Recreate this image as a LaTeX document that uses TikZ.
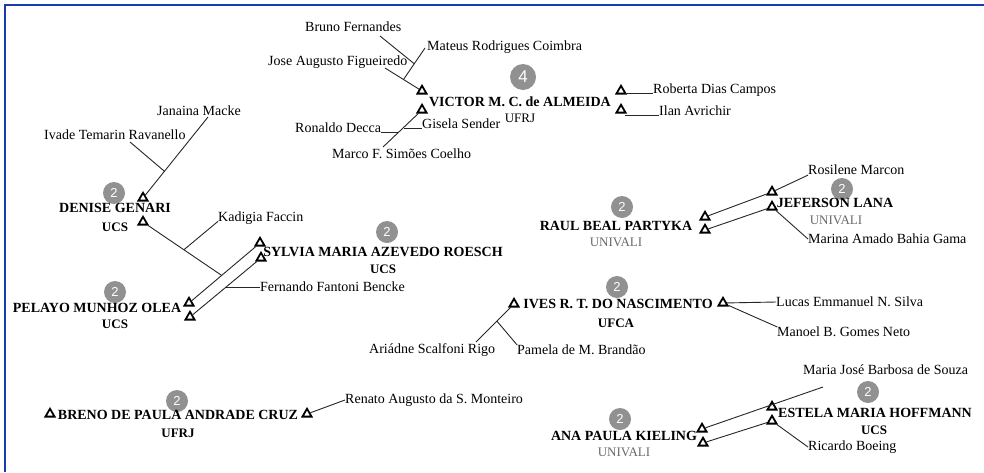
\documentclass[tikz,border=0pt]{standalone}
\usepackage{fontspec}
\setmainfont{Liberation Serif}
\newfontfamily\badgefont{Liberation Sans}
\usetikzlibrary{shapes.geometric,calc}
\definecolor{frameblue}{RGB}{25,60,175}
\definecolor{badgegray}{RGB}{145,145,145}
\definecolor{unigray}{RGB}{105,105,105}
\begin{document}
\begin{tikzpicture}[x=1pt,y=-1pt,
  tri/.style={draw, regular polygon, regular polygon sides=3, minimum size=10.5pt, inner sep=0pt, line width=1.8pt, line join=miter},
  author/.style={font=\fontsize{14}{16}\selectfont\bfseries, inner sep=0pt},
  coauthor/.style={font=\fontsize{14}{16}\selectfont, inner sep=0pt, anchor=west},
  inst/.style={font=\fontsize{13}{15}\selectfont\bfseries, inner sep=0pt},
  instreg/.style={font=\fontsize{13}{15}\selectfont, inner sep=0pt},
  instgray/.style={font=\fontsize{13}{15}\selectfont, text=unigray, inner sep=0pt},
  badge/.style={circle, fill=badgegray, text=white, font=\badgefont\fontsize{13}{13}\selectfont, minimum size=22pt, inner sep=0pt},
  link/.style={line width=0.9pt, draw=black!85}]
\useasboundingbox (0,0) rectangle (984,472);
\fill[white] (0,0) rectangle (984,472);
\draw[frameblue, line width=2.8pt] (5,472) -- (5,5) -- (984,5);

% ---- Victor group
\node[coauthor] (bruno) at (305,27) {Bruno Fernandes};
\node[coauthor] (mateus) at (427,47) {Mateus Rodrigues Coimbra};
\node[coauthor] (jose) at (268,62) {Jose Augusto Figueiredo};
\node[badge, minimum size=26pt, font=\badgefont\fontsize{17}{17}\selectfont] (b4) at (523,77) {4};
\node[tri] (vt1) at (422,91) {};
\node[tri] (vt2) at (422,110) {};
\node[tri] (vt3) at (621,91) {};
\node[tri] (vt4) at (621,110) {};
\node[author] (victor) at (520,102) {VICTOR M. C. de ALMEIDA};
\node[instreg] (ufrj1) at (520,118) {UFRJ};
\node[coauthor] (gisela) at (422,124) {Gisela Sender};
\node[coauthor] (ronaldo) at (295,128) {Ronaldo Decca};
\node[coauthor] (marco) at (332,154) {Marco F. Simões Coelho};
\node[coauthor] (roberta) at (653,90) {Roberta Dias Campos};
\node[coauthor] (ilan) at (659,111) {Ilan Avrichir};
\coordinate (cjose) at (385,68);
\coordinate (cmat) at (425,48);
\coordinate (cbruno) at (380,36);
\coordinate (cmarco) at (383,147);
\draw[link] (cjose) -- (vt1);
\coordinate (jmat) at ($(cjose)!0.5!(vt1)$);
\draw[link] (jmat) -- (cmat);
\coordinate (jbruno) at ($(jmat)!0.5!(cmat)$);
\draw[link] (cbruno) -- (jbruno);
\draw[link] (vt2) -- (cmarco);
\coordinate (jron) at ($(vt2)!0.62!(cmarco)$);
\draw[link] (ronaldo.base east) -- (ronaldo.base east -| jron);
\coordinate (jgis) at ($(vt2)!0.45!(cmarco)$);
\draw[link] (jgis |- gisela.base) -- (gisela.base west);
\draw[link] (vt3.east |- roberta.base) -- (roberta.base west);
\draw[link] (vt4.east |- ilan.base) -- (ilan.base west);

% ---- Denise group
\node[coauthor] (janaina) at (157,111) {Janaina Macke};
\node[coauthor] (ivade) at (44,135) {Ivade Temarin Ravanello};
\node[badge] (bden) at (114,193) {2};
\node[tri] (dt1) at (143,198) {};
\node[author] (denise) at (115,208) {DENISE GENARI};
\node[tri] (dt2) at (143,222) {};
\node[inst] (ucs1) at (115,227) {UCS};
\node[coauthor] (kadigia) at (218,218) {Kadigia Faccin};
\coordinate (cjan) at (208,117);
\coordinate (civa) at (130,142);
\draw[link] (dt1) -- (cjan);
\coordinate (jiva) at ($(dt1)!0.33!(cjan)$);
\draw[link] (civa) -- (jiva);

% ---- Sylvia / Pelayo group
\node[badge] (bsyl) at (387,232) {2};
\node[tri] (st1) at (260,243) {};
\node[tri] (st2) at (261,258) {};
\node[author] (sylvia) at (383,252) {SYLVIA MARIA AZEVEDO ROESCH};
\node[inst] (ucs2) at (383,269) {UCS};
\node[coauthor] (fernando) at (260,287) {Fernando Fantoni Bencke};
\node[badge] (bpel) at (115,292) {2};
\node[author] (pelayo) at (97,308) {PELAYO MUNHOZ OLEA};
\node[tri] (pt1) at (189,303) {};
\node[tri] (pt2) at (190,317) {};
\node[inst] (ucs3) at (115,324) {UCS};
\draw[link] (pt1) -- (st1);
\draw[link] (pt2) -- (st2);
\coordinate (jden) at ($(pt1)!0.46!(st1)$);
\draw[link] (dt2) -- (jden);
\coordinate (jkad) at ($(dt2)!0.52!(jden)$);
\draw[link] (jkad) -- (kadigia.base west);
\coordinate (jfer) at ($(pt2)!0.5!(st2)$);
\draw[link] (jfer) -- (jfer -| fernando.west);

% ---- Raul / Jeferson group
\node[coauthor] (rosilene) at (808,170) {Rosilene Marcon};
\node[badge] (bjef) at (842,189) {2};
\node[tri] (jt1) at (772,192) {};
\node[tri] (jt2) at (772,207) {};
\node[author] (jeferson) at (835,203) {JEFERSON LANA};
\node[instgray] (uni1) at (836,220) {UNIVALI};
\node[badge] (braul) at (622,207) {2};
\node[author] (raul) at (616,226) {RAUL BEAL PARTYKA};
\node[instgray] (uni2) at (616,242) {UNIVALI};
\node[tri] (rt1) at (705,217) {};
\node[tri] (rt2) at (705,230) {};
\node[coauthor] (marina) at (808,239) {Marina Amado Bahia Gama};
\draw[link] (rt1) -- (jt1);
\draw[link] (rt2) -- (jt2);
\draw[link] (jt1) -- (rosilene.south west);
\draw[link] (jt2) -- (marina.west);

% ---- Ives group
\node[badge] (bives) at (617,287) {2};
\node[tri] (it1) at (514,304) {};
\node[author] (ives) at (618,304) {IVES R. T. DO NASCIMENTO};
\node[tri] (it2) at (723,303) {};
\node[inst] (ufca) at (616,323) {UFCA};
\node[coauthor] (lucas) at (776,302) {Lucas Emmanuel N. Silva};
\node[coauthor] (manoel) at (777,332) {Manoel B. Gomes Neto};
\node[coauthor] (ariadne) at (369,350) {Ariádne Scalfoni Rigo};
\node[coauthor] (pamela) at (517,350) {Pamela de M. Brandão};
\coordinate (cari) at (476,342);
\draw[link] (it1) -- (cari);
\coordinate (jpam) at ($(it1)!0.45!(cari)$);
\draw[link] (jpam) -- (pamela.north west);
\draw[link] (it2) -- (lucas.west);
\draw[link] (it2) -- (manoel.north west);

% ---- Breno group
\node[badge] (bbre) at (177,401) {2};
\node[tri] (bt1) at (50,414) {};
\node[author] (breno) at (178,415) {BRENO DE PAULA ANDRADE CRUZ};
\node[tri] (bt2) at (307,414) {};
\node[inst] (ufrj2) at (178,433) {UFRJ};
\node[coauthor] (renato) at (345,400) {Renato Augusto da S. Monteiro};
\draw[link] (bt2) -- (renato.west);

% ---- Ana / Estela group
\node[coauthor] (mariajose) at (803,370) {Maria José Barbosa de Souza};
\node[badge] (best) at (868,392) {2};
\node[tri] (et1) at (772,407) {};
\node[tri] (et2) at (772,421) {};
\node[author] (estela) at (875,413) {ESTELA MARIA HOFFMANN};
\node[inst] (ucs4) at (874,430) {UCS};
\node[badge] (bana) at (620,419) {2};
\node[author] (ana) at (624,436) {ANA PAULA KIELING};
\node[instgray] (uni3) at (624,452) {UNIVALI};
\node[tri] (at1) at (702,429) {};
\node[tri] (at2) at (703,443) {};
\node[coauthor] (ricardo) at (808,447) {Ricardo Boeing};
\coordinate (cmj) at (823,387);
\draw[link] (at1) -- (cmj);
\draw[link] (at2) -- (et2);
\draw[link] (et2) -- (ricardo.west);
\end{tikzpicture}
\end{document}
